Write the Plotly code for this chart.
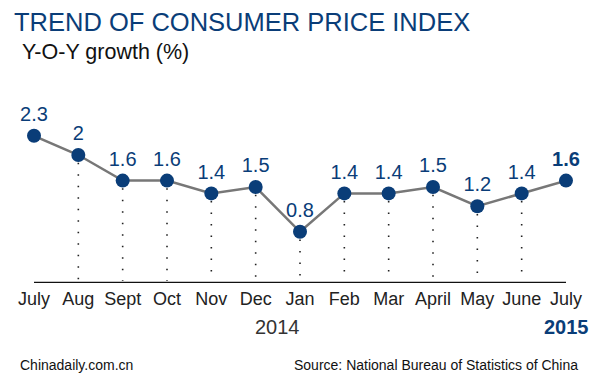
import plotly.graph_objects as go

months = ["July", "Aug", "Sept", "Oct", "Nov", "Dec", "Jan", "Feb", "Mar", "April", "May", "June", "July"]
cpi = [2.3, 2.0, 1.6, 1.6, 1.4, 1.5, 0.8, 1.4, 1.4, 1.5, 1.2, 1.4, 1.6]
value_labels = ["2.3", "2", "1.6", "1.6", "1.4", "1.5", "0.8", "1.4", "1.4", "1.5", "1.2", "1.4", "<b>1.6</b>"]

idx = list(range(len(months)))
BLUE = "#0a3d78"
FONT = "Liberation Sans, Arial"

# page body has a default 8px margin; lay the figure out in page pixels
OFF = 8
W, H = 600 - OFF, 380 - OFF
L, R, T, B = 34 - OFF, 34, 59 - OFF, 97
PW, PH = W - L - R, H - T - B


def px(x):
    return (x - OFF - L) / PW


def py(y):
    return (H - B - (y - OFF)) / PH


fig = go.Figure()

# dotted drop lines (Aug..June)
dx, dy = [], []
for i in idx[1:-1]:
    dx += [i, i, None]
    dy += [cpi[i] - 0.12, 0.03, None]
fig.add_trace(go.Scatter(x=dx, y=dy, mode="lines",
                         line=dict(color="#222222", width=1.6, dash="1.5px,10px"),
                         hoverinfo="skip", showlegend=False))

fig.add_trace(go.Scatter(x=idx, y=cpi, mode="lines+markers+text",
                         line=dict(color="#777777", width=2.5),
                         marker=dict(color=BLUE, size=14),
                         text=value_labels, textposition="top center",
                         textfont=dict(family=FONT, size=20, color=BLUE),
                         cliponaxis=False, showlegend=False))

fig.add_shape(type="line", x0=0, x1=12, y0=0, y1=0, xref="x", yref="y",
              line=dict(color="#111111", width=2.5))

fig.update_xaxes(range=[0, 12], tickvals=idx, ticktext=months, showgrid=False, zeroline=False,
                 showline=False, ticks="", automargin=False, ticklabelstandoff=3,
                 tickfont=dict(family=FONT, size=18, color="#222222"))
fig.update_yaxes(range=[0, 3.5], visible=False, showgrid=False, automargin=False)

fig.add_annotation(x=5.5, y=py(327), xref="x", yref="paper", text="2014", showarrow=False,
                   font=dict(family=FONT, size=20, color="#333333"), yanchor="middle")
fig.add_annotation(x=px(591), y=py(327), xref="paper", yref="paper", text="<b>2015</b>",
                   showarrow=False, xanchor="right", yanchor="middle",
                   font=dict(family=FONT, size=20, color=BLUE))
fig.add_annotation(x=px(12), y=py(21.5), xref="paper", yref="paper", text="TREND OF CONSUMER PRICE INDEX",
                   showarrow=False, xanchor="left", yanchor="middle",
                   font=dict(family=FONT, size=25.5, color=BLUE))
fig.add_annotation(x=px(20), y=py(52), xref="paper", yref="paper", text="Y-O-Y growth (%)",
                   showarrow=False, xanchor="left", yanchor="middle",
                   font=dict(family=FONT, size=21.5, color="#111111"))
fig.add_annotation(x=px(18), y=py(365), xref="paper", yref="paper", text="Chinadaily.com.cn",
                   showarrow=False, xanchor="left", yanchor="middle",
                   font=dict(family=FONT, size=14, color="#111111"))
fig.add_annotation(x=px(580), y=py(365), xref="paper", yref="paper",
                   text="Source: National Bureau of Statistics of China",
                   showarrow=False, xanchor="right", yanchor="middle",
                   font=dict(family=FONT, size=14, color="#111111"))

fig.update_layout(width=W, height=H, margin=dict(l=L, r=R, t=T, b=B),
                  paper_bgcolor="white", plot_bgcolor="white")

fig.write_html("out.html")
